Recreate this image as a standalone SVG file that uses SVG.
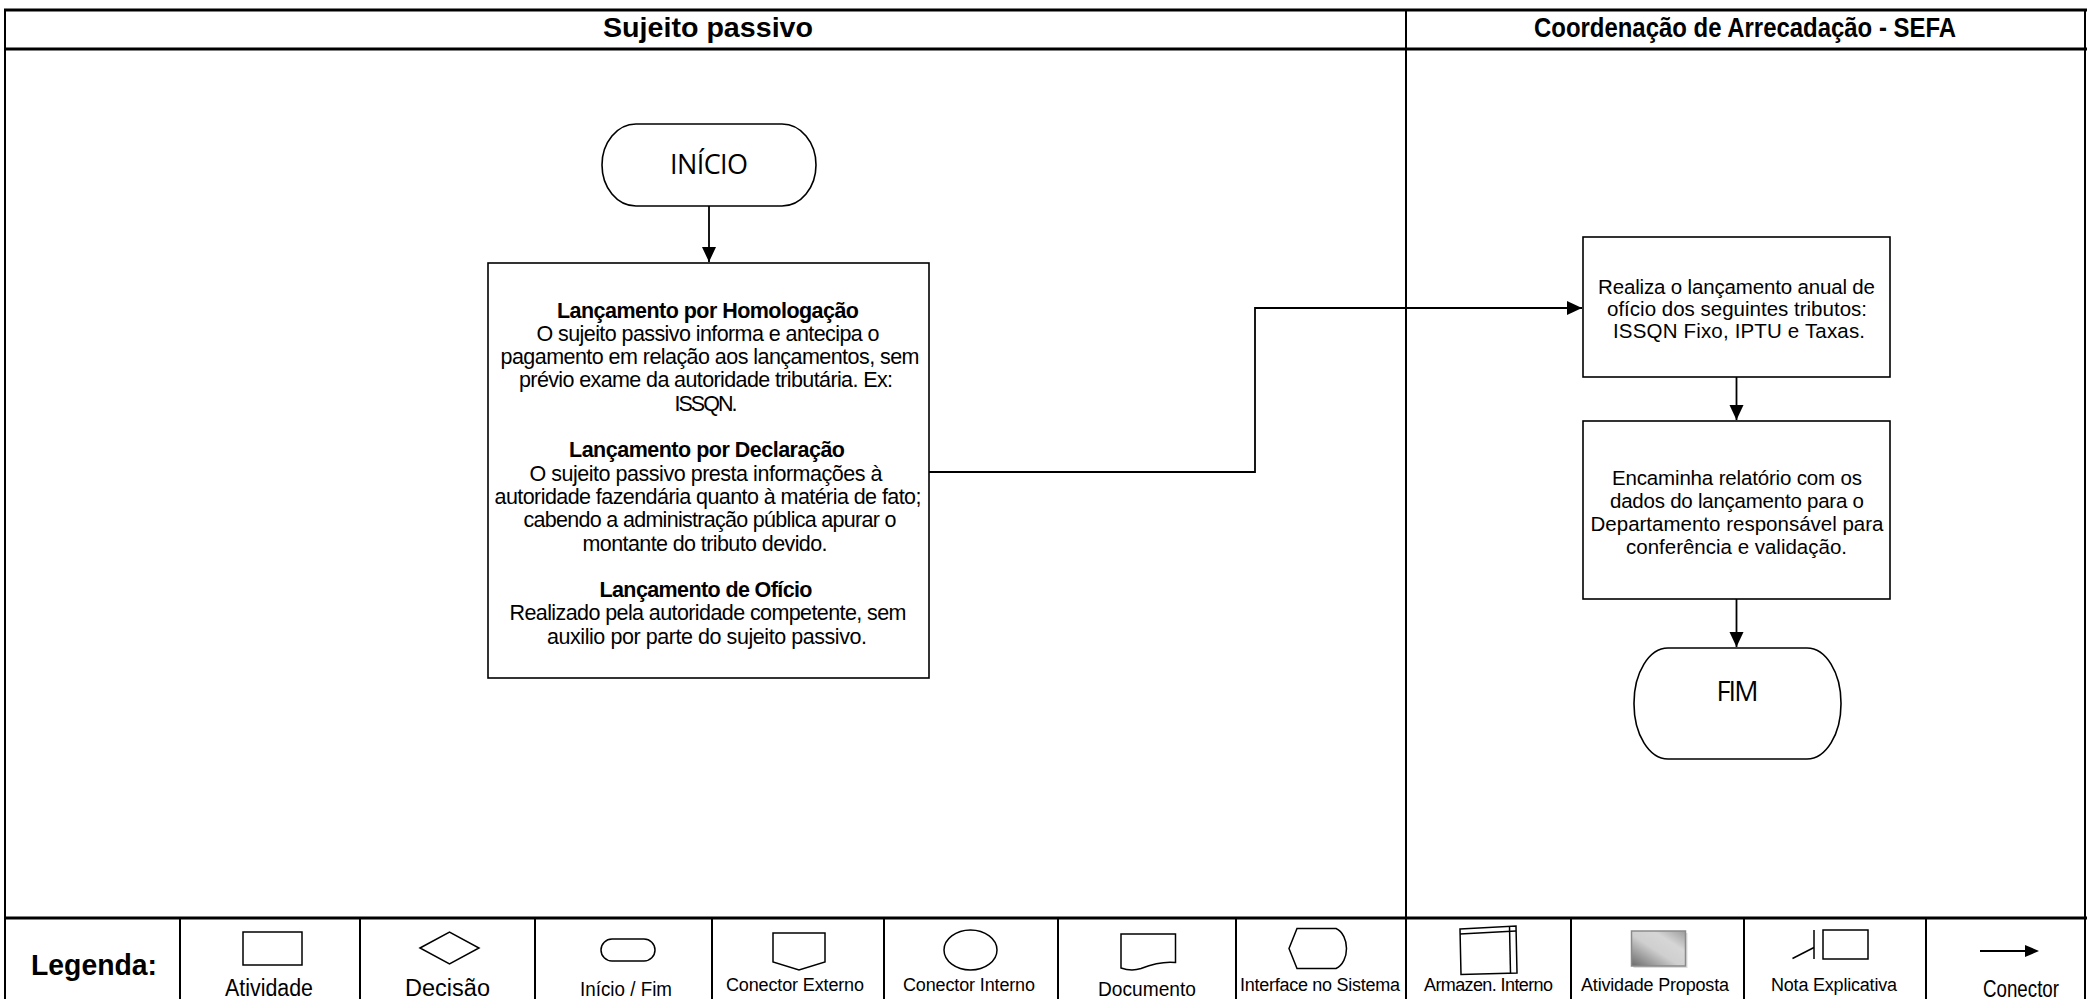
<svg xmlns="http://www.w3.org/2000/svg" width="2087" height="999" viewBox="0 0 2087 999">
<defs>
<style>
.ln{stroke:#000;fill:none}
.box{fill:#fff;stroke:#000;stroke-width:1.6}
.t{font-family:"Liberation Sans",Arial,sans-serif;fill:#000;text-anchor:middle}
.b{font-weight:bold}
.c{font-family:"Open Sans","Noto Sans",sans-serif;fill:#000;text-anchor:middle}
.conn{stroke:#000;stroke-width:1.8;fill:none;marker-end:url(#arr)}
.sym{fill:#fff;stroke:#000;stroke-width:1.5}
.f20{font-size:21.5px}
.f19{font-size:20.5px}
.lg{font-size:18px}
</style>
<marker id="arr" markerUnits="userSpaceOnUse" markerWidth="16" markerHeight="16" refX="15" refY="8" orient="auto"><path d="M0,1 L15,8 L0,15 z" fill="#000"/></marker>
<linearGradient id="gp" x1="0" y1="1" x2="1" y2="0">
<stop offset="0" stop-color="#6a6a6a"/>
<stop offset="0.45" stop-color="#cfcfcf"/>
<stop offset="0.7" stop-color="#d6d6d6"/>
<stop offset="1" stop-color="#9c9c9c"/>
</linearGradient>
</defs>
<rect width="2087" height="999" fill="#fff"/>

<g id="frame" class="ln">
<line x1="4" y1="10" x2="2087" y2="10" stroke-width="3"/>
<line x1="5" y1="10" x2="5" y2="999" stroke-width="2"/>
<line x1="2085" y1="10" x2="2085" y2="999" stroke-width="2"/>
<line x1="5" y1="49" x2="2087" y2="49" stroke-width="3"/>
<line x1="1406" y1="10" x2="1406" y2="918" stroke-width="2"/>
<line x1="5" y1="918" x2="2087" y2="918" stroke-width="3"/>
</g>

<g id="lane-titles">
<text class="t b" x="708" y="37" font-size="28" textLength="210" lengthAdjust="spacingAndGlyphs">Sujeito passivo</text>
<text class="t b" x="1745" y="37" font-size="28" textLength="422" lengthAdjust="spacingAndGlyphs">Coordenação de Arrecadação - SEFA</text>
</g>

<g id="connectors">
<path class="conn" d="M709,206 V262"/>
<path class="conn" d="M929,472 H1255 V308 H1582"/>
<path class="conn" d="M1736.5,377 V420"/>
<path class="conn" d="M1736.5,599 V647"/>
</g>

<g id="inicio">
<rect class="box" x="602" y="124" width="214" height="82" rx="34" ry="41"/>
<text class="c" x="709" y="174" font-size="27" textLength="78">INÍCIO</text>
</g>

<g id="lancamento">
<rect class="box" x="488" y="263" width="441" height="415"/>
<text class="t b f20" x="708" y="317.5" textLength="302">Lançamento por Homologação</text>
<text class="t f20" x="708" y="340.8" textLength="343">O sujeito passivo informa e antecipa o</text>
<text class="t f20" x="710" y="364.1" textLength="419">pagamento em relação aos lançamentos, sem</text>
<text class="t f20" x="706" y="387.4" textLength="374">prévio exame da autoridade tributária. Ex:</text>
<text class="t f20" x="706" y="410.7" textLength="63">ISSQN.</text>
<text class="t b f20" x="707" y="457.3" textLength="276">Lançamento por Declaração</text>
<text class="t f20" x="706" y="480.6" textLength="353">O sujeito passivo presta informações à</text>
<text class="t f20" x="708" y="503.9" textLength="427">autoridade fazendária quanto à matéria de fato;</text>
<text class="t f20" x="710" y="527.2" textLength="373">cabendo a administração pública apurar o</text>
<text class="t f20" x="705" y="550.5" textLength="245">montante do tributo devido.</text>
<text class="t b f20" x="706" y="597.1" textLength="213">Lançamento de Ofício</text>
<text class="t f20" x="708" y="620.4" textLength="397">Realizado pela autoridade competente, sem</text>
<text class="t f20" x="707" y="643.7" textLength="320">auxilio por parte do sujeito passivo.</text>
</g>

<g id="realiza">
<rect class="box" x="1583" y="237" width="307" height="140"/>
<text class="t f19" x="1736.5" y="293.5" textLength="277">Realiza o lançamento anual de</text>
<text class="t f19" x="1737" y="315.5" textLength="260">ofício dos seguintes tributos:</text>
<text class="t f19" x="1739" y="337.5" textLength="252">ISSQN Fixo, IPTU e Taxas.</text>
</g>

<g id="encaminha">
<rect class="box" x="1583" y="421" width="307" height="178"/>
<text class="t f19" x="1737" y="484.5" textLength="250">Encaminha relatório com os</text>
<text class="t f19" x="1737" y="507.5" textLength="254">dados do lançamento para o</text>
<text class="t f19" x="1737" y="530.5" textLength="293">Departamento responsável para</text>
<text class="t f19" x="1736.5" y="553.5" textLength="221">conferência e validação.</text>
</g>

<g id="fim">
<rect class="box" x="1634" y="648" width="207" height="111" rx="34" ry="55"/>
<text class="c" x="1737.5" y="701" font-size="27" textLength="42">FIM</text>
</g>

<g id="legenda">
<g class="ln" stroke-width="2">
<line x1="180" y1="918" x2="180" y2="999"/>
<line x1="360" y1="918" x2="360" y2="999"/>
<line x1="535" y1="918" x2="535" y2="999"/>
<line x1="712" y1="918" x2="712" y2="999"/>
<line x1="884" y1="918" x2="884" y2="999"/>
<line x1="1058" y1="918" x2="1058" y2="999"/>
<line x1="1236" y1="918" x2="1236" y2="999"/>
<line x1="1406" y1="918" x2="1406" y2="999"/>
<line x1="1571" y1="918" x2="1571" y2="999"/>
<line x1="1744" y1="918" x2="1744" y2="999"/>
<line x1="1926" y1="918" x2="1926" y2="999"/>
</g>
<text class="t b" x="94" y="975" font-size="29" textLength="126" lengthAdjust="spacingAndGlyphs">Legenda:</text>

<rect class="sym" x="243" y="932" width="59" height="33"/>
<text class="t" x="269" y="996" font-size="23" textLength="88" lengthAdjust="spacingAndGlyphs">Atividade</text>

<path class="sym" d="M420,948 L449.5,932 L479,948 L449.5,964 Z"/>
<text class="t" x="447.5" y="996" font-size="23" textLength="85" lengthAdjust="spacingAndGlyphs">Decisão</text>

<rect class="sym" x="601" y="939" width="54" height="22" rx="11" ry="11"/>
<text class="t" x="626" y="996" font-size="20" textLength="92" lengthAdjust="spacingAndGlyphs">Início / Fim</text>

<path class="sym" d="M773,933 H825 V962 L799,970 L773,962 Z"/>
<text class="t lg" x="795" y="991" textLength="138">Conector Externo</text>

<ellipse class="sym" cx="970.5" cy="950" rx="26.5" ry="20"/>
<text class="t lg" x="969" y="991" textLength="132">Conector Interno</text>

<path class="sym" d="M1121,934 H1175.5 V962.5 C1162,961 1150,965 1141,968.5 C1133,971 1127,970 1121,968 Z"/>
<text class="t" x="1147" y="996" font-size="21" textLength="98" lengthAdjust="spacingAndGlyphs">Documento</text>

<path class="sym" d="M1289,948.5 L1297,928.5 H1336 C1350,935 1350,962 1336,968.5 H1297 Z"/>
<text class="t lg" x="1320" y="991" textLength="160">Interface no Sistema</text>

<g class="sym">
<path d="M1460,929 L1516,926 L1517,973 L1461,974.5 Z"/>
<path d="M1460,934 L1516,931" fill="none"/>
<path d="M1509.5,926.5 L1510.5,973.2" fill="none"/>
</g>
<text class="t lg" x="1488.5" y="991" textLength="129">Armazen. Interno</text>

<rect x="1633.5" y="933" width="54" height="35" fill="#bdbdbd" opacity="0.5"/>
<rect x="1631.5" y="931" width="54" height="35" fill="url(#gp)" stroke="#8a8a8a" stroke-width="1.5"/>
<text class="t lg" x="1655" y="991" textLength="148">Atividade Proposta</text>

<g class="ln" stroke-width="1.5">
<rect x="1823" y="930" width="45" height="29" fill="#fff"/>
<line x1="1814" y1="930" x2="1814" y2="959"/>
<line x1="1792.5" y1="958.5" x2="1814" y2="947.5"/>
</g>
<text class="t lg" x="1834" y="991" textLength="126">Nota Explicativa</text>

<line class="ln" x1="1980" y1="951" x2="2026" y2="951" stroke-width="1.8"/>
<path d="M2025,945 L2039,951 L2025,957 Z" fill="#000"/>
<text class="t" x="2021" y="997" font-size="24" textLength="76" lengthAdjust="spacingAndGlyphs">Conector</text>
</g>
</svg>
